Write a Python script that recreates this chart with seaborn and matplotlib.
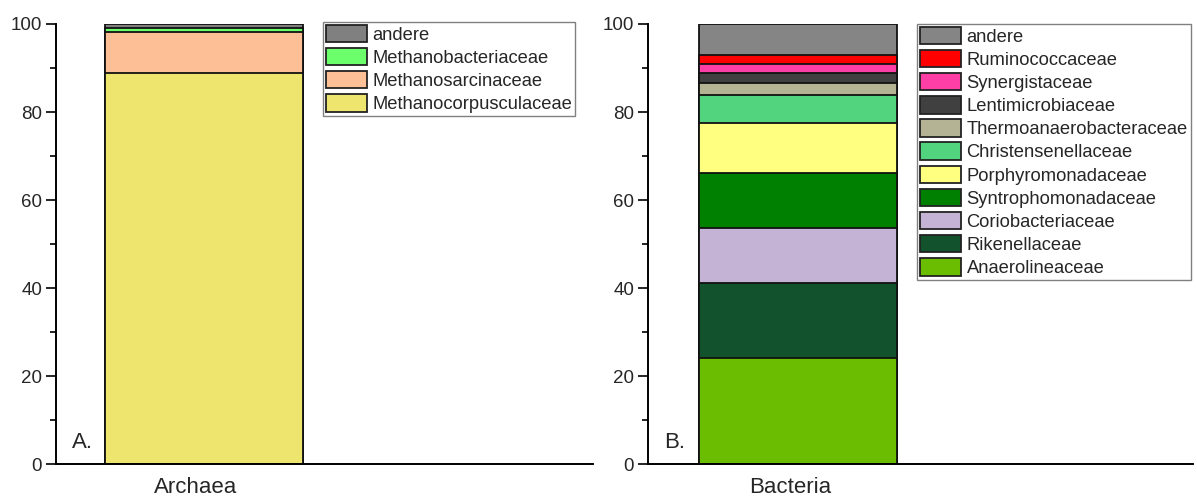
import matplotlib
matplotlib.use("Agg")
import matplotlib.pyplot as plt
from matplotlib.patches import Patch
from matplotlib.ticker import MultipleLocator
from matplotlib.transforms import ScaledTranslation
import numpy as np
import pandas as pd
import seaborn as sns

# Relative abundance (%) of families, listed bottom to top of each stack
archaea_families = ["Methanocorpusculaceae", "Methanosarcinaceae",
                    "Methanobacteriaceae", "andere"]
archaea_values = [88.9, 9.2, 1.1, 0.8]
archaea_colors = ["#EDE56D", "#FDBF96", "#6BFF6B", "#808080"]

bacteria_families = ["Anaerolineaceae", "Rikenellaceae", "Coriobacteriaceae",
                     "Syntrophomonadaceae", "Porphyromonadaceae",
                     "Christensenellaceae", "Thermoanaerobacteraceae",
                     "Lentimicrobiaceae", "Synergistaceae", "Ruminococcaceae",
                     "andere"]
bacteria_values = [24.0, 17.1, 12.6, 12.4, 11.5, 6.2, 2.9, 2.2, 2.0, 2.0, 7.1]
bacteria_colors = ["#6ABD00", "#12522C", "#C5B3D6", "#008000", "#FFFF80",
                   "#52D47E", "#B4B494", "#404040", "#FF3FA6", "#FF0000",
                   "#858585"]

domains = ["Archaea", "Bacteria"]
panel_tags = ["A.", "B."]

sns.set_theme(style="ticks")
plt.rcParams["font.family"] = ["Liberation Sans", "DejaVu Sans"]

W, H = 1197, 498
fig = plt.figure(figsize=(W / 100, H / 100), dpi=100)

def px_axes(x0, x1, y0, y1):
    return fig.add_axes([x0 / W, 1 - y1 / H, (x1 - x0) / W, (y1 - y0) / H])

ax_a = px_axes(56, 593, 24, 464)
ax_b = px_axes(648, 1193, 24, 464)


def stacked_panel(ax, domain, families, values, colors, xlim, tag,
                  legend_anchor):
    cum = np.cumsum(values)
    # draw tallest cumulative bar first so each lower segment sits on top
    for fam, top, col in reversed(list(zip(families, cum, colors))):
        df = pd.DataFrame({"domain": [domain], "percent": [top]})
        sns.barplot(data=df, x="domain", y="percent", color=col,
                    saturation=1, width=0.8, edgecolor="#111111",
                    linewidth=1.3, ax=ax)
    ax.set_ylim(0, 100)
    ax.set_xlim(*xlim)
    ax.set_xlabel("")
    ax.set_ylabel("")
    ax.yaxis.set_major_locator(MultipleLocator(20))
    ax.yaxis.set_minor_locator(MultipleLocator(10))
    ax.tick_params(axis="y", which="major", length=7, width=1.2,
                   labelsize=13.5, pad=3, color="black")
    ax.tick_params(axis="y", which="minor", length=4, width=1.2,
                   color="black")
    ax.tick_params(axis="x", length=0, labelsize=16, pad=9)
    shift = ScaledTranslation(-8 / 100, 0, fig.dpi_scale_trans)
    for lbl in ax.get_xticklabels():
        lbl.set_transform(lbl.get_transform() + shift)
    for side in ("top", "right"):
        ax.spines[side].set_visible(False)
    for side in ("left", "bottom"):
        ax.spines[side].set_linewidth(1.4)
        ax.spines[side].set_color("black")
    ax.text(0.03, 0.025, tag, transform=ax.transAxes, fontsize=16,
            ha="left", va="bottom")

    handles = [Patch(facecolor=c, edgecolor="#222222", linewidth=1.3,
                     label=f) for f, c in zip(families, colors)]
    leg = ax.legend(handles=handles[::-1], loc="upper left",
                    bbox_to_anchor=legend_anchor,
                    bbox_transform=fig.transFigure, borderaxespad=0,
                    fontsize=13.2, handlelength=2.25, handleheight=1.08,
                    labelspacing=0.23, handletextpad=0.3, borderpad=0.15,
                    frameon=True, fancybox=False, framealpha=1)
    leg.get_frame().set_edgecolor("#808080")
    leg.get_frame().set_linewidth(1.0)


stacked_panel(ax_a, domains[0], archaea_families, archaea_values,
              archaea_colors, (-0.598, 1.572), panel_tags[0],
              (323 / W, 1 - 22 / H))
stacked_panel(ax_b, domains[1], bacteria_families, bacteria_values,
              bacteria_colors, (-0.605, 1.597), panel_tags[1],
              (917 / W, 1 - 24 / H))

fig.savefig("out.png", dpi=100)
